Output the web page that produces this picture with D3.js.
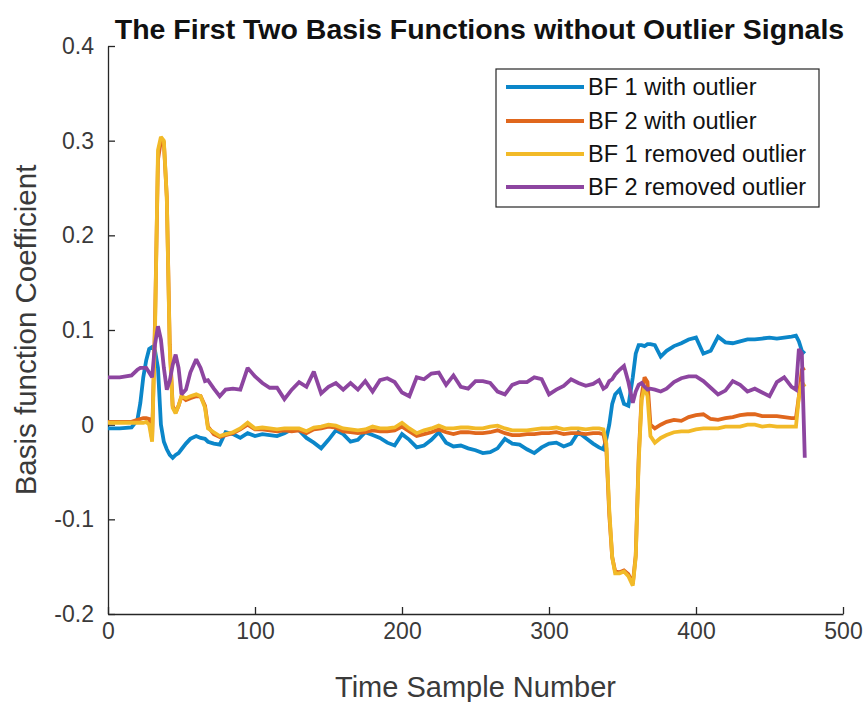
<!DOCTYPE html>
<html>
<head>
<meta charset="utf-8">
<script src="https://cdn.jsdelivr.net/npm/d3@7"></script>
<style>
    body { margin: 0; background: #fff; }
    text { font-family: "Liberation Sans", Arial, Helvetica, sans-serif; }
</style>
</head>
<body>
<div id="chart"></div>
<script>
const sampleIdx = [
    0, 8, 16, 20, 22, 24, 26, 28, 30, 32,
    34, 36, 38, 40, 42, 44, 46, 48, 50, 53,
    56, 60, 63, 66, 68, 72, 76, 80, 85, 90,
    95, 100, 105, 110, 115, 120, 125, 130, 135, 140,
    145, 150, 155, 160, 165, 170, 175, 180, 185, 190,
    195, 200, 205, 210, 215, 220, 225, 230, 235, 240,
    245, 250, 255, 260, 265, 270, 275, 280, 285, 290,
    295, 300, 305, 310, 315, 320, 325, 330, 334, 337,
    339, 341, 343, 345, 348, 351, 354, 357, 359, 361,
    363, 365, 367, 369, 372, 376, 380, 385, 390, 395,
    400, 405, 410, 415, 420, 425, 430, 435, 440, 445,
    450, 455, 460, 465, 468, 470, 472, 474
];

const bf1WithOutlier = [
    -0.004, -0.004, -0.003, 0.005, 0.023, 0.05, 0.068, 0.08, 0.082, 0.078,
    0.06, 0.0, -0.018, -0.026, -0.032, -0.035, -0.032, -0.03, -0.026, -0.02,
    -0.015, -0.012, -0.014, -0.015, -0.018, -0.02, -0.021, -0.008, -0.01, -0.014,
    -0.009, -0.012, -0.01, -0.011, -0.012, -0.009, -0.005, -0.006, -0.014, -0.019,
    -0.025, -0.016, -0.006, -0.01, -0.018, -0.016, -0.008, -0.011, -0.014, -0.019,
    -0.022, -0.01, -0.016, -0.024, -0.022, -0.016, -0.008, -0.019, -0.023, -0.022,
    -0.025, -0.027, -0.03, -0.029, -0.025, -0.015, -0.02, -0.021, -0.026, -0.03,
    -0.024, -0.02, -0.019, -0.023, -0.02, -0.008, -0.014, -0.02, -0.024, -0.026,
    -0.015, 0.0, 0.022, 0.032, 0.037, 0.022, 0.02, 0.05, 0.075, 0.084,
    0.084, 0.083, 0.085, 0.085, 0.084, 0.072, 0.078, 0.083, 0.086, 0.09,
    0.092, 0.075, 0.078, 0.093, 0.087, 0.086, 0.088, 0.09, 0.09, 0.091,
    0.092, 0.091, 0.092, 0.093, 0.094, 0.088, 0.078, 0.075
];

const bf2WithOutlier = [
    0.003, 0.003, 0.003, 0.005, 0.006, 0.007, 0.007, 0.006, -0.015, 0.11,
    0.28, 0.3, 0.298, 0.24, 0.085, 0.02, 0.013, 0.02, 0.03, 0.026,
    0.028, 0.03, 0.03, 0.02, -0.002, -0.01, -0.013, -0.011, -0.009, -0.005,
    0.0, -0.005, -0.005, -0.006, -0.007, -0.006, -0.007, -0.006, -0.009, -0.005,
    -0.004, -0.002, -0.003, -0.007, -0.008, -0.009, -0.008, -0.006, -0.007, -0.007,
    -0.006, -0.002, -0.007, -0.012, -0.01, -0.008, -0.005, -0.008, -0.01, -0.008,
    -0.008, -0.009, -0.009, -0.008, -0.006, -0.009, -0.011, -0.011, -0.01, -0.01,
    -0.009, -0.009, -0.008, -0.01, -0.009, -0.009, -0.01, -0.009, -0.009, -0.01,
    -0.025, -0.095, -0.14, -0.155, -0.156, -0.154, -0.158, -0.168, -0.138, -0.035,
    0.03, 0.05, 0.045, 0.0, -0.004, 0.0, 0.003, 0.005, 0.004, 0.008,
    0.01, 0.011, 0.006, 0.005, 0.007, 0.008, 0.01, 0.011, 0.011, 0.009,
    0.009, 0.009, 0.008, 0.007, 0.007, 0.03, 0.058, 0.06
];

const bf1Removed = [
    0.002, 0.002, 0.002, 0.002, 0.002, 0.002, 0.003, 0.0, -0.018, 0.1,
    0.29, 0.304, 0.3, 0.24, 0.08, 0.018, 0.012, 0.02, 0.03, 0.028,
    0.03, 0.032, 0.03, 0.018, -0.004, -0.008, -0.012, -0.01, -0.008, -0.004,
    0.002, -0.004, -0.003, -0.004, -0.005, -0.004, -0.004, -0.004, -0.007, -0.003,
    -0.002, 0.0, -0.001, -0.004, -0.005, -0.006, -0.005, -0.002, -0.004, -0.004,
    -0.003, 0.002, -0.004, -0.009, -0.006, -0.004, -0.001, -0.004, -0.004, -0.003,
    -0.003, -0.004, -0.004, -0.002, -0.001, -0.004, -0.006, -0.006, -0.006, -0.005,
    -0.004, -0.004, -0.003, -0.005, -0.004, -0.004, -0.005, -0.004, -0.004, -0.005,
    -0.02, -0.09, -0.14, -0.157, -0.157, -0.155, -0.16, -0.17, -0.14, -0.04,
    0.026, 0.04, 0.03, -0.012, -0.019, -0.014, -0.011, -0.008, -0.007, -0.007,
    -0.005, -0.004, -0.004, -0.004, -0.002, -0.002, -0.002, 0.0, 0.0, -0.002,
    -0.001, -0.002, -0.002, -0.002, -0.002, 0.03, 0.045, 0.04
];

const bf2Removed = [
    0.05, 0.05, 0.052, 0.058, 0.06, 0.06, 0.06, 0.055, 0.05, 0.085,
    0.104, 0.09, 0.06, 0.037, 0.046, 0.063, 0.074, 0.06, 0.032, 0.037,
    0.055, 0.069, 0.06, 0.046, 0.047, 0.038, 0.03, 0.037, 0.038, 0.037,
    0.06, 0.051, 0.044, 0.039, 0.039, 0.027, 0.037, 0.045, 0.04, 0.056,
    0.033, 0.04, 0.044, 0.037, 0.044, 0.037, 0.046, 0.035, 0.047, 0.049,
    0.045, 0.034, 0.03, 0.05, 0.048, 0.054, 0.055, 0.042, 0.052, 0.04,
    0.038, 0.046, 0.046, 0.044, 0.035, 0.032, 0.042, 0.045, 0.045, 0.05,
    0.048, 0.032, 0.037, 0.041, 0.048, 0.044, 0.041, 0.043, 0.047, 0.038,
    0.04, 0.046, 0.048, 0.053, 0.058, 0.062, 0.045, 0.023, 0.035, 0.042,
    0.044, 0.04, 0.037, 0.038, 0.037, 0.035, 0.038, 0.045, 0.049, 0.051,
    0.051, 0.046, 0.039, 0.032, 0.036, 0.046, 0.042, 0.035, 0.038, 0.034,
    0.03, 0.045, 0.05, 0.04, 0.037, 0.08, 0.075, -0.035
];

const seriesNames = ["BF 1 with outlier", "BF 2 with outlier", "BF 1 removed outlier", "BF 2 removed outlier"];
const seriesColors = ["#0b86c9", "#e0671d", "#f2ba28", "#8d45a0"];
const xTicks = [0, 100, 200, 300, 400, 500];
const yTicks = [-0.2, -0.1, 0, 0.1, 0.2, 0.3, 0.4];
const yTickLabels = ["-0.2", "-0.1", "0", "0.1", "0.2", "0.3", "0.4"];

function drawChart() {
    const width = 867;
    const height = 702;
    const margin = {top: 46, right: 24, bottom: 88, left: 108};
    const axisColor = '#262626';

    const svg = d3.select("#chart")
        .append("svg")
        .attr("width", width)
        .attr("height", height);

    const x = d3.scaleLinear()
        .domain([0, 500])
        .range([margin.left, width - margin.right]);

    const y = d3.scaleLinear()
        .domain([-0.2, 0.4])
        .range([height - margin.bottom, margin.top]);

    // axes, ticks point inwards like matlab
    const xAxis = svg.append("g")
        .attr("transform", `translate(0, ${height - margin.bottom})`)
        .call(d3.axisBottom(x).tickValues(xTicks).tickFormat(d3.format("d"))
            .tickSizeInner(-7).tickSizeOuter(0).tickPadding(9));

    const yAxis = svg.append("g")
        .attr("transform", `translate(${margin.left}, 0)`)
        .call(d3.axisLeft(y).tickValues(yTicks).tickFormat((d, i) => yTickLabels[i])
            .tickSizeInner(-7).tickSizeOuter(0).tickPadding(14));

    [xAxis, yAxis].forEach(function(g) {
        g.select(".domain").attr("stroke", axisColor).attr("stroke-width", 1.3);
        g.selectAll(".tick line").attr("stroke", axisColor).attr("stroke-width", 1.3);
        g.selectAll(".tick text")
            .attr("fill", "#3a3a3a")
            .style("font-size", "23px")
            .style("font-family", '"Liberation Sans", Arial, sans-serif');
    });

    // the four series
    const allSeries = [bf1WithOutlier, bf2WithOutlier, bf1Removed, bf2Removed];
    const line = d3.line()
        .x((d, i) => x(sampleIdx[i]))
        .y(d => y(d));

    svg.selectAll(".series")
        .data(allSeries)
        .enter()
        .append("path")
        .attr("class", "series")
        .attr("d", d => line(d))
        .attr("fill", "none")
        .attr("stroke", (d, i) => seriesColors[i])
        .attr("stroke-width", 3.8)
        .attr("stroke-linejoin", "miter")
        .attr("stroke-miterlimit", 2);

    // title and axis labels
    svg.append("text")
        .attr("x", (x(0) + x(500)) / 2 + 4)
        .attr("y", 39)
        .style("text-anchor", "middle")
        .style("font-weight", "bold")
        .style("font-size", "28.5px")
        .attr("fill", "#111")
        .text("The First Two Basis Functions without Outlier Signals");

    svg.append("text")
        .attr("x", (x(0) + x(500)) / 2)
        .attr("y", 697)
        .style("text-anchor", "middle")
        .style("font-size", "29px")
        .attr("fill", "#3a3a3a")
        .text("Time Sample Number");

    svg.append("text")
        .attr("transform", `translate(36, ${(y(-0.2) + y(0.4)) / 2}) rotate(-90)`)
        .style("text-anchor", "middle")
        .style("font-size", "29.5px")
        .attr("fill", "#3a3a3a")
        .text("Basis function Coefficient");

    // legend
    const legend = svg.append("g");
    legend.append("rect")
        .attr("x", 496)
        .attr("y", 69)
        .attr("width", 323)
        .attr("height", 138)
        .attr("fill", "#fff")
        .attr("stroke", axisColor)
        .attr("stroke-width", 1.2);

    const rowY = [87, 121, 154, 187];
    seriesNames.forEach(function(name, i) {
        legend.append("line")
            .attr("x1", 506)
            .attr("x2", 584)
            .attr("y1", rowY[i])
            .attr("y2", rowY[i])
            .attr("stroke", seriesColors[i])
            .attr("stroke-width", 3.8);
        legend.append("text")
            .attr("x", 588)
            .attr("y", rowY[i])
            .attr("dy", "0.35em")
            .style("font-size", "23.5px")
            .attr("fill", "#111")
            .text(name);
    });
}

drawChart();
</script>
</body>
</html>
